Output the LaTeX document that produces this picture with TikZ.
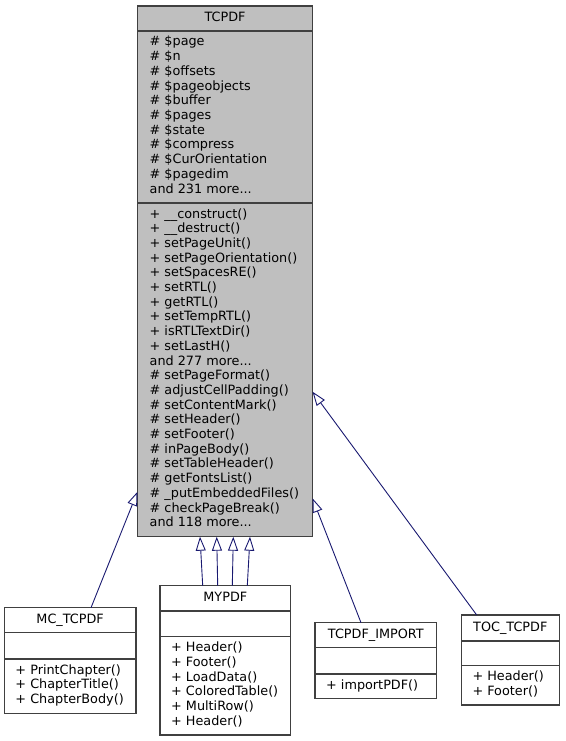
\documentclass[tikz,border=0pt]{standalone}
\usepackage{fontspec}
\setmainfont{DejaVu Sans}
\usetikzlibrary{arrows.meta}
\definecolor{edgeblue}{HTML}{191970}
\definecolor{boxgray}{HTML}{BFBFBF}
\definecolor{bordergray}{HTML}{404040}
\tikzset{
  cls/.style={draw=bordergray, line width=1.2pt, fill=white, anchor=north west, inner sep=0pt, outer sep=0pt},
  sepline/.style={draw=bordergray, line width=1.2pt},
  txt/.style={anchor=base west, inner sep=0pt, font=\fontsize{12.8}{14.7}\selectfont},
  ttl/.style={anchor=base, inner sep=0pt, font=\fontsize{12.8}{14.7}\selectfont},
  inh/.style={draw=edgeblue, line width=0.9pt, -{Triangle[open, length=14pt, width=10pt, line width=0.9pt]}}
}
\newcommand\threedots{...}
\newcommand\mylines[4]{%
  \foreach \t [count=\i] in {#4} {\node[txt] (#1\i) at ({#2}, {#3+(\i-1)*14.7}) {\t};}}
\begin{document}
\begin{tikzpicture}[x=1pt,y=-1pt]
\useasboundingbox (0,0) rectangle (565,741);

% TCPDF
\node[cls, fill=boxgray, minimum width=175pt, minimum height=530.7pt] (tcpdf) at (137.5,6) {};
\draw[sepline] (137.5,31) -- (312.5,31);
\draw[sepline] (137.5,203) -- (312.5,203);
\node[ttl] (tcpdfT) at (225,22) {TCPDF};
\mylines{ta}{149.5}{46}{{\# \$page}, {\# \$n}, {\# \$offsets}, {\# \$pageobjects}, {\# \$buffer}, {\# \$pages}, {\# \$state}, {\# \$compress}, {\# \$CurOrientation}, {\# \$pagedim}, {and 231 more\threedots}}
\mylines{tm}{149.5}{218}{{+ \_\_construct()}, {+ \_\_destruct()}, {+ setPageUnit()}, {+ setPageOrientation()}, {+ setSpacesRE()}, {+ setRTL()}, {+ getRTL()}, {+ setTempRTL()}, {+ isRTLTextDir()}, {+ setLastH()}, {and 277 more\threedots}, {\# setPageFormat()}, {\# adjustCellPadding()}, {\# setContentMark()}, {\# setHeader()}, {\# setFooter()}, {\# inPageBody()}, {\# setTableHeader()}, {\# getFontsList()}, {\# \_putEmbeddedFiles()}, {\# checkPageBreak()}, {and 118 more\threedots}}

% MC_TCPDF
\node[cls, minimum width=131.7pt, minimum height=105.6pt] (mc) at (4.3,607.7) {};
\draw[sepline] (4.3,632.7) -- (136,632.7);
\draw[sepline] (4.3,659) -- (136,659);
\node[ttl] (mcT) at (70.15,623.7) {MC\_TCPDF};
\mylines{mm}{15.3}{674}{{+ PrintChapter()}, {+ ChapterTitle()}, {+ ChapterBody()}}

% MYPDF
\node[cls, minimum width=130.7pt, minimum height=149.3pt] (my) at (160,585.7) {};
\draw[sepline] (160,611) -- (290.7,611);
\draw[sepline] (160,636.7) -- (290.7,636.7);
\node[ttl] (myT) at (225.35,601.7) {MYPDF};
\mylines{ym}{171}{651.7}{{+ Header()}, {+ Footer()}, {+ LoadData()}, {+ ColoredTable()}, {+ MultiRow()}, {+ Header()}}

% TCPDF_IMPORT
\node[cls, minimum width=121.7pt, minimum height=75.6pt] (imp) at (315,622.7) {};
\draw[sepline] (315,647.7) -- (436.7,647.7);
\draw[sepline] (315,674) -- (436.7,674);
\node[ttl] (impT) at (375.85,638.7) {TCPDF\_IMPORT};
\mylines{im}{326}{689}{{+ importPDF()}}

% TOC_TCPDF
\node[cls, minimum width=98pt, minimum height=90pt] (toc) at (461.3,615) {};
\draw[sepline] (461.3,641) -- (559.3,641);
\draw[sepline] (461.3,665.7) -- (559.3,665.7);
\node[ttl] (tocT) at (510.3,631) {TOC\_TCPDF};
\mylines{oc}{472.3}{680.7}{{+ Header()}, {+ Footer()}}

% arrow tips on TCPDF
\coordinate (tipToc) at (312.5,391.7);
\coordinate (tipImp) at (312.5,498.3);
\coordinate (tipMc) at (137.5,491.7);
\coordinate (tipA) at (200,536.7);
\coordinate (tipB) at (216.7,536.7);
\coordinate (tipC) at (233.3,536.7);
\coordinate (tipD) at (250,536.7);

\draw[inh] ([xshift=15.4pt]toc.north west) -- (tipToc);
\draw[inh] ([xshift=46pt]imp.north west) -- (tipImp);
\draw[inh] ([xshift=86.7pt]mc.north west) -- (tipMc);
\draw[inh] ([xshift=42.7pt]my.north west) -- (tipA);
\draw[inh] ([xshift=57.7pt]my.north west) -- (tipB);
\draw[inh] ([xshift=72.3pt]my.north west) -- (tipC);
\draw[inh] ([xshift=87.3pt]my.north west) -- (tipD);
\end{tikzpicture}
\end{document}
